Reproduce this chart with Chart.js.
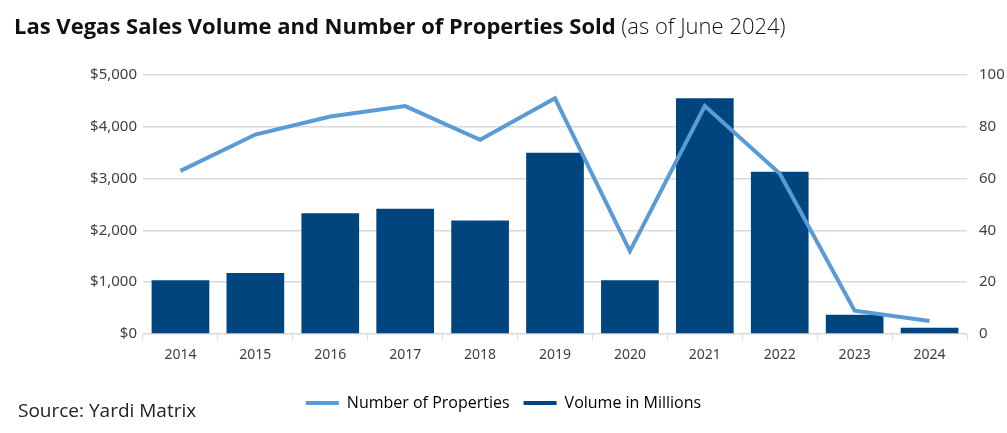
<!DOCTYPE html>
<html lang="en">
<head>
    <meta charset="UTF-8">
    <title>Las Vegas Sales Volume and Number of Properties Sold</title>
    <script src="https://cdn.jsdelivr.net/npm/chart.js"></script>
    <style>
        body {
            margin: 0;
            background: #fff;
            font-family: "Open Sans", sans-serif;
        }
        .wrap {
            position: relative;
            width: 1007px;
            height: 433px;
        }
        .title {
            position: absolute;
            left: 14px;
            top: 10px;
            font-size: 22px;
            color: #111;
            white-space: nowrap;
        }
        .title b { font-weight: 700; }
        .title span { font-weight: 300; }
        .source {
            position: absolute;
            left: 18px;
            top: 397px;
            font-size: 19px;
            color: #222;
        }
    </style>
</head>
<body>
<div class="wrap">
    <canvas id="salesChart" width="1007" height="433"></canvas>
    <div class="title"><b>Las Vegas Sales Volume and Number of Properties Sold</b> <span>(as of June 2024)</span></div>
    <div class="source">Source: Yardi Matrix</div>
</div>
<script>
    // values
    const years = ['2014', '2015', '2016', '2017', '2018', '2019', '2020', '2021', '2022', '2023', '2024'];
    const volumeMillions = [1040, 1180, 2330, 2420, 2190, 3500, 1040, 4550, 3130, 370, 120];
    const propertiesSold = [63, 77, 84, 88, 75, 91, 32, 88, 62, 9, 5];

    const lineBlue = '#5b9bd5';
    const barBlue = '#00457e';
    const gridGray = '#d9d9d9';
    const tickGray = '#404040';

    const ctx = document.getElementById('salesChart').getContext('2d');
    new Chart(ctx, {
        type: 'bar',
        data: {
            labels: years,
            datasets: [
                {
                    type: 'line',
                    label: 'Number of Properties',
                    data: propertiesSold,
                    yAxisID: 'yRight',
                    borderColor: lineBlue,
                    backgroundColor: lineBlue,
                    borderWidth: 4,
                    pointRadius: 0,
                    tension: 0,
                    order: 0
                },
                {
                    label: 'Volume in Millions',
                    data: volumeMillions,
                    yAxisID: 'yLeft',
                    backgroundColor: barBlue,
                    categoryPercentage: 1,
                    barPercentage: 0.77,
                    order: 1
                }
            ]
        },
        options: {
            responsive: false,
            animation: false,
            layout: {
                padding: { top: 75, bottom: 12, left: 0, right: 0 }
            },
            plugins: {
                title: { display: false },
                tooltip: { enabled: false },
                legend: {
                    position: 'bottom',
                    labels: {
                        font: { family: 'Open Sans', size: 16 },
                        color: '#333',
                        boxWidth: 33,
                        boxHeight: 4,
                        padding: 14,
                        generateLabels: chart => chart.data.datasets.map((ds, i) => ({
                            text: ds.label,
                            fillStyle: ds.type === 'line' ? ds.borderColor : ds.backgroundColor,
                            strokeStyle: 'transparent',
                            lineWidth: 0,
                            datasetIndex: i
                        }))
                    }
                }
            },
            scales: {
                x: {
                    grid: {
                        drawOnChartArea: false,
                        drawTicks: true,
                        tickLength: 6,
                        color: gridGray
                    },
                    border: { display: false },
                    ticks: {
                        color: tickGray,
                        font: { family: 'Noto Sans', size: 14 },
                        padding: 7
                    },
                    afterFit: scale => { scale.height = 47; }
                },
                yLeft: {
                    position: 'left',
                    min: 0,
                    max: 5000,
                    grid: {
                        color: gridGray,
                        lineWidth: 1.5,
                        drawTicks: false
                    },
                    border: { display: false },
                    ticks: {
                        stepSize: 1000,
                        color: tickGray,
                        padding: 6,
                        font: { family: 'Noto Sans', size: 15 },
                        callback: v => '$' + v.toLocaleString('en-US')
                    },
                    afterFit: scale => { scale.width = 143; }
                },
                yRight: {
                    position: 'right',
                    min: 0,
                    max: 100,
                    grid: { display: false },
                    border: { display: false },
                    ticks: {
                        stepSize: 20,
                        color: tickGray,
                        padding: 4,
                        font: { family: 'Noto Sans', size: 15 }
                    },
                    afterFit: scale => { scale.width = 40; }
                }
            }
        }
    });
</script>
</body>
</html>
